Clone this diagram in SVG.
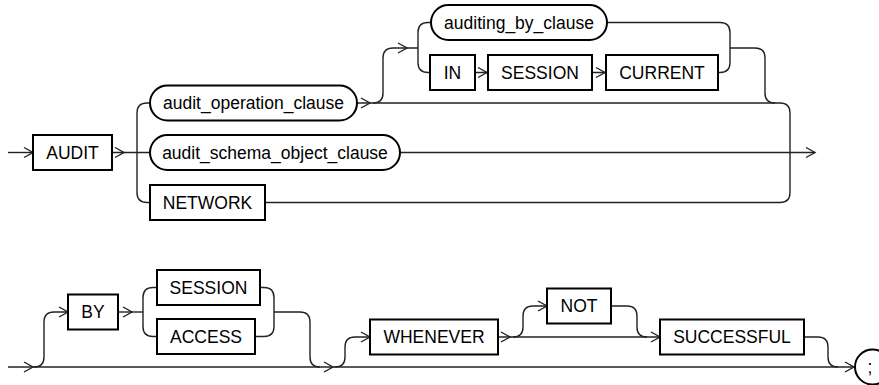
<svg xmlns="http://www.w3.org/2000/svg" width="879" height="385" viewBox="0 0 879 385">
<style>
.box{fill:#fff;stroke:#000;stroke-width:2}
.ln{fill:none;stroke:#222;stroke-width:1.4}
.ah{fill:none;stroke:#222;stroke-width:1.4;stroke-linejoin:miter}
.t{font-family:"Liberation Sans",Arial,sans-serif;font-size:17.5px;fill:#000;text-anchor:middle}
</style>
<defs>
<path id="ah" class="ah" d="M-9,-5 L0,0 L-9,5"/>
</defs>
<rect width="879" height="385" fill="#fff"/>
<g id="connectors">
<path class="ln" d="M8,152.5 H33"/>
<path class="ln" d="M112,152.5 H150"/>
<path class="ln" d="M150,103 H147 Q137,103 137,113 V192.5 Q137,202.5 147,202.5 H150"/>
<path class="ln" d="M400,152.5 H815"/>
<path class="ln" d="M357,103 H780 Q790,103 790,113 V192.5 Q790,202.5 780,202.5 H265"/>
<path class="ln" d="M373,103 Q383,103 383,93 V58 Q383,48 393,48 H418"/>
<path class="ln" d="M431,22.5 H428 Q418,22.5 418,32.5 V62.5 Q418,72.5 428,72.5 H430"/>
<path class="ln" d="M475,72.5 H488 M592,72.5 H606"/>
<path class="ln" d="M607,22.5 H720 Q730,22.5 730,32.5 V62.5 Q730,72.5 720,72.5 H718"/>
<path class="ln" d="M730,48 H755 Q765,48 765,58 V93 Q765,103 775,103"/>
<path class="ln" d="M8,367 H853"/>
<path class="ln" d="M34,367 Q44,367 44,357 V322 Q44,312 54,312 H68"/>
<path class="ln" d="M118,312 H143"/>
<path class="ln" d="M157,287.5 H153 Q143,287.5 143,297.5 V326.5 Q143,336.5 153,336.5 H157"/>
<path class="ln" d="M260,287.5 H264 Q274,287.5 274,297.5 V326.5 Q274,336.5 264,336.5 H255"/>
<path class="ln" d="M274,312 H300 Q310,312 310,322 V357 Q310,367 320,367"/>
<path class="ln" d="M335,367 Q345,367 345,357 V347 Q345,337 355,337 H370"/>
<path class="ln" d="M498,337 H660"/>
<path class="ln" d="M513,337 Q523,337 523,327 V316 Q523,306 533,306 H547"/>
<path class="ln" d="M611,306 H627 Q637,306 637,316 V327 Q637,337 647,337"/>
<path class="ln" d="M804,337 H818 Q828,337 828,347 V357 Q828,367 838,367"/>
<use href="#ah" x="33" y="152.5"/>
<use href="#ah" x="124" y="152.5"/>
<use href="#ah" x="370" y="103"/>
<use href="#ah" x="407" y="48"/>
<use href="#ah" x="487" y="72.5"/>
<use href="#ah" x="605" y="72.5"/>
<use href="#ah" x="815" y="152.5"/>
<use href="#ah" x="33" y="367"/>
<use href="#ah" x="68" y="312"/>
<use href="#ah" x="132" y="312"/>
<use href="#ah" x="333" y="367"/>
<use href="#ah" x="370" y="337"/>
<use href="#ah" x="510" y="337"/>
<use href="#ah" x="547" y="306"/>
<use href="#ah" x="660" y="337"/>
<use href="#ah" x="854" y="367"/>
</g>
<g id="n_audit"><rect class="box" x="33" y="135" width="79" height="35"/><text class="t" x="72.5" y="158.8">AUDIT</text></g>
<g id="n_audit_operation_clause"><rect class="box" x="150" y="85.5" width="207" height="35" rx="17.5"/><text class="t" x="253.5" y="109.3">audit_operation_clause</text></g>
<g id="n_audit_schema_object_clause"><rect class="box" x="150" y="135" width="250" height="35" rx="17.5"/><text class="t" x="275" y="158.8">audit_schema_object_clause</text></g>
<g id="n_network"><rect class="box" x="150" y="185" width="115" height="35"/><text class="t" x="207.5" y="208.8">NETWORK</text></g>
<g id="n_auditing_by_clause"><rect class="box" x="431" y="5" width="176" height="35" rx="17.5"/><text class="t" x="519" y="28.8">auditing_by_clause</text></g>
<g id="n_in"><rect class="box" x="430" y="55" width="45" height="35"/><text class="t" x="452.5" y="78.8">IN</text></g>
<g id="n_session1"><rect class="box" x="488" y="55" width="104" height="35"/><text class="t" x="540" y="78.8">SESSION</text></g>
<g id="n_current"><rect class="box" x="606" y="55" width="112" height="35"/><text class="t" x="662" y="78.8">CURRENT</text></g>
<g id="n_by"><rect class="box" x="68" y="294.5" width="50" height="35"/><text class="t" x="93" y="318.3">BY</text></g>
<g id="n_session2"><rect class="box" x="157" y="270" width="103" height="35"/><text class="t" x="208.5" y="293.8">SESSION</text></g>
<g id="n_access"><rect class="box" x="157" y="319" width="98" height="35"/><text class="t" x="206" y="342.8">ACCESS</text></g>
<g id="n_whenever"><rect class="box" x="370" y="319.5" width="128" height="35"/><text class="t" x="434" y="343.3">WHENEVER</text></g>
<g id="n_not"><rect class="box" x="547" y="288.5" width="64" height="35"/><text class="t" x="579" y="312.3">NOT</text></g>
<g id="n_successful"><rect class="box" x="660" y="319.5" width="144" height="35"/><text class="t" x="732" y="343.3">SUCCESSFUL</text></g>
<g id="n_semicolon"><rect class="box" x="855" y="349.5" width="35" height="35" rx="17.5"/><text class="t" x="870" y="373.3">;</text></g>
</svg>
